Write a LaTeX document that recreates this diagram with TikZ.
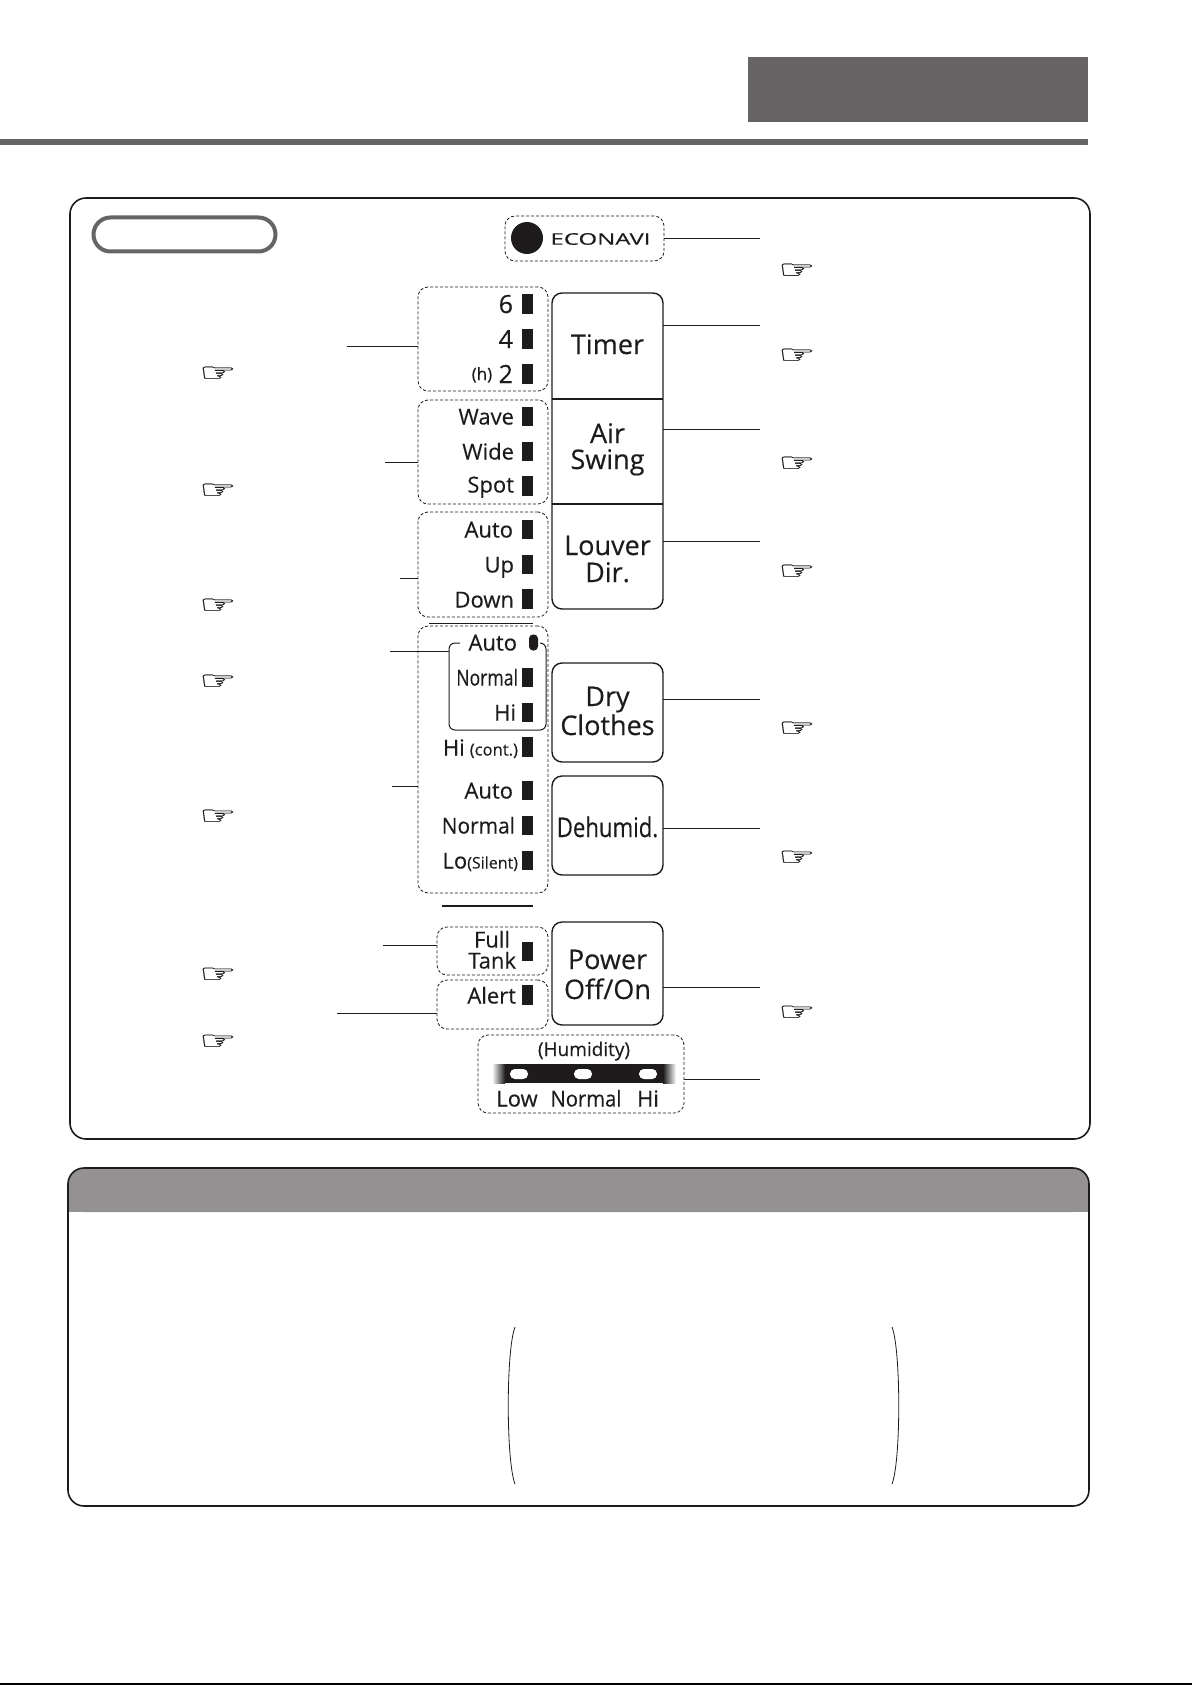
\documentclass[tikz,border=0pt]{standalone}
\usepackage{fontspec}
\setmainfont[FakeBold=0.3]{Open Sans}
\newfontfamily\handfont[FakeBold=0.4]{DejaVu Sans}
\usetikzlibrary{positioning, calc}
\definecolor{ink}{RGB}{30, 27, 28}
\definecolor{headgray}{RGB}{102, 100, 101}
\definecolor{bandgray}{RGB}{147, 145, 146}
\newcommand{\sml}[1]{{\fontsize{8}{8}\selectfont #1}}

\begin{document}
\begin{tikzpicture}[x=0.5pt, y=-0.5pt, every node/.style={inner sep=0pt, outer sep=0pt},
    groupbox/.style={rectangle, draw=ink, rounded corners=5pt, line width=0.4pt, dash pattern=on 1.5pt off 1pt},
    btnbox/.style={rectangle, draw=ink, rounded corners=5pt, line width=0.7pt, minimum width=55.5pt},
    btnlabel/.style={anchor=base, yshift=-0.5pt, font=\fontsize{13.5}{14}\selectfont, text=ink},
    ledlabel/.style={anchor=base east, yshift=-0.25pt, font=\fontsize{11}{11}\selectfont, text=ink},
    bignum/.style={anchor=base east, font=\fontsize{12.5}{12.5}\selectfont, text=ink},
    led/.style={rectangle, fill=ink, minimum width=5.5pt, minimum height=9.7pt},
    lamp/.style={rectangle, fill=white, rounded corners=2.4pt, minimum width=9pt, minimum height=5pt},
    lead/.style={draw=ink, line width=0.5pt},
    squeeze/.style={xscale=#1, transform shape},
    hand/.style={xscale=1.4, yscale=0.85, transform shape, font=\handfont\fontsize{15}{15}\selectfont, text=ink}]
    \useasboundingbox (0,0) rectangle (1192,1685);

    % page head
    \node[rectangle, fill=headgray, minimum width=170pt, minimum height=32.5pt] (headbar) at (918,89.5) {};
    \node[rectangle, fill=headgray, minimum width=544pt, minimum height=3pt] (headrule) at (544,142) {};
    \coordinate (footl) at (0,1684);
    \coordinate (footr) at (1192,1684);
    \draw[draw=black, line width=1pt] (footl) -- (footr);

    % panels
    \node[rectangle, draw=ink, line width=0.8pt, rounded corners=8pt, minimum width=510pt, minimum height=470.5pt] (panel) at (580,668.5) {};
    \node[rectangle, draw=headgray, line width=2pt, rounded corners=8.5pt, minimum width=91pt, minimum height=17pt] (pill) at (184.5,234.5) {};

    % econavi
    \node[groupbox, minimum width=79.5pt, minimum height=22.5pt] (econavibox) at (584.5,238.5) {};
    \node[circle, fill=ink, minimum size=16pt] (econavilamp) at (527,238) {};
    \node[squeeze=1.5, font=\fontsize{8}{8}\selectfont, text=ink] (econavi) at (600.5,239) {ECONAVI};

    % indicator groups
    \node[groupbox, minimum width=65pt, minimum height=52pt] (timerbox) at (483,339) {};
    \node[groupbox, minimum width=65pt, minimum height=52pt] (swingbox) at (483,452) {};
    \node[groupbox, minimum width=65pt, minimum height=52.5pt] (louverbox) at (483,564.5) {};
    \node[groupbox, minimum width=65pt, minimum height=133.5pt] (modebox) at (483,759.5) {};
    \node[groupbox, minimum width=55.5pt, minimum height=24pt] (fullbox) at (492.5,951) {};
    \node[groupbox, minimum width=55.5pt, minimum height=24.5pt] (alertbox) at (492.5,1004.5) {};
    \node[groupbox, minimum width=103pt, minimum height=39pt] (humidbox) at (581,1074) {};

    \node[bignum] (six) at (513,313) {6};
    \node[bignum] (four) at (513,348) {4};
    \node[bignum] (two) at (513,383) {\raisebox{1.5pt}{\fontsize{8.5}{8.5}\selectfont (h)} 2};
    \node[led] (ledsix) at (527.5,304) {};
    \node[led] (ledfour) at (527.5,339) {};
    \node[led] (ledtwo) at (527.5,374) {};

    \node[ledlabel] (wave) at (514,424) {Wave};
    \node[ledlabel] (wide) at (514,459) {Wide};
    \node[ledlabel] (spot) at (514,492) {Spot};
    \node[led] (ledwave) at (527.5,416.5) {};
    \node[led] (ledwide) at (527.5,451.5) {};
    \node[led] (ledspot) at (527.5,486) {};

    \node[ledlabel] (lvauto) at (513,537) {Auto};
    \node[ledlabel] (lvup) at (514,572) {Up};
    \node[ledlabel] (lvdown) at (514,607) {Down};
    \node[led] (ledlvauto) at (527.5,529.5) {};
    \node[led] (ledlvup) at (527.5,564.5) {};
    \node[led] (ledlvdown) at (527.5,599) {};

    \node[ledlabel] (dryauto) at (517,650) {Auto};
    \node[ledlabel, squeeze=0.8] (drynormal) at (518,685) {Normal};
    \node[ledlabel] (dryhi) at (516,720) {Hi};
    \node[ledlabel] (hicont) at (518,755) {Hi\hspace{2.5pt}{\fontsize{8.3}{8.3}\selectfont (cont.)}};
    \node[ledlabel] (dehauto) at (513,798) {Auto};
    \node[ledlabel, squeeze=0.95] (dehnormal) at (515,833) {Normal};
    \node[ledlabel] (lo) at (518,868) {Lo\sml{(Silent)}};
    \node[rectangle, fill=ink, rounded corners=2pt, minimum width=4.5pt, minimum height=8pt] (leddryauto) at (533.5,642.5) {};
    \node[led] (leddrynormal) at (527.5,677.5) {};
    \node[led] (leddryhi) at (527.5,712.5) {};
    \node[led] (ledhicont) at (527.5,747) {};
    \node[led] (leddehauto) at (527.5,790.5) {};
    \node[led] (leddehnormal) at (527.5,825.5) {};
    \node[led] (ledlo) at (527.5,860.5) {};

    \node[ledlabel] (full) at (510,947) {Full};
    \node[ledlabel] (tank) at (516,968) {Tank};
    \node[ledlabel] (alert) at (516,1003) {Alert};
    \node[led] (ledfull) at (527.5,951.5) {};
    \node[led] (ledalert) at (527.5,995) {};

    % bracket round the dry clothes lamps
    \coordinate (drya) at (460,643);
    \coordinate (dryb) at (449,730);
    \coordinate (dryc) at (546,730);
    \coordinate (dryd) at (541,643);
    \draw[lead, rounded corners=3pt] (drya) -- (drya -| dryb) -- (dryb) -- (dryc) -- (dryc |- dryd) -- (dryd);

    % short rules
    \coordinate (rulea) at (429,623);
    \coordinate (ruleb) at (533,623);
    \coordinate (rulec) at (442,906);
    \coordinate (ruled) at (533,906);
    \draw[lead] (rulea) -- (ruleb);
    \draw[draw=ink, line width=0.9pt] (rulec) -- (ruled);

    % buttons
    \node[btnbox, minimum height=158pt] (btnstack) at (607.5,451) {};
    \draw[draw=ink, line width=0.8pt] (btnstack.west |- 0,399) -- (btnstack.east |- 0,399);
    \draw[draw=ink, line width=0.8pt] (btnstack.west |- 0,504) -- (btnstack.east |- 0,504);
    \node[btnbox, minimum height=49.5pt] (drybtn) at (607.5,712.5) {};
    \node[btnbox, minimum height=49.5pt] (dehumbtn) at (607.5,825.5) {};
    \node[btnbox, minimum height=51.5pt] (powerbtn) at (607.5,973.5) {};

    \node[btnlabel] (timer) at (607.5,353) {Timer};
    \node[btnlabel] (air) at (607.5,442) {Air};
    \node[btnlabel] (swing) at (607.5,468) {Swing};
    \node[btnlabel] (louver) at (607.5,554) {Louver};
    \node[btnlabel] (dir) at (607.5,581) {Dir.};
    \node[btnlabel] (dry) at (607.5,705) {Dry};
    \node[btnlabel] (clothes) at (607.5,734) {Clothes};
    \node[btnlabel, squeeze=0.82] (dehumid) at (607.5,836) {Dehumid.};
    \node[btnlabel] (power) at (607.5,968) {Power};
    \node[btnlabel] (offon) at (607.5,998) {Off/On};

    % humidity scale
    \node[anchor=base, font=\fontsize{9.5}{10}\selectfont, text=ink] (humidity) at (584,1056) {(Humidity)};
    \node[rectangle, fill=ink, minimum width=79pt, minimum height=9.5pt] (band) at (584,1073.5) {};
    \shade[left color=white, right color=ink] (492,1064) rectangle (505,1083);
    \shade[left color=ink, right color=white] (663,1064) rectangle (676,1083);
    \node[lamp] (lamplow) at (519,1074) {};
    \node[lamp] (lampnormal) at (583,1074) {};
    \node[lamp] (lamphi) at (648,1074) {};
    \node[ledlabel, anchor=base] (low) at (517,1106) {Low};
    \node[ledlabel, anchor=base, squeeze=0.92] (normal) at (586,1106) {Normal};
    \node[ledlabel, anchor=base] (hi) at (648,1106) {Hi};

    % leaders, left
    \coordinate (ltimer) at (347,346);
    \coordinate (lswing) at (385,462);
    \coordinate (llouver) at (400,578);
    \coordinate (ldry) at (390,651);
    \coordinate (lmode) at (392,786);
    \coordinate (lfull) at (383,945);
    \coordinate (lalert) at (337,1013);
    \draw[lead] (ltimer) -- (ltimer -| timerbox.west);
    \draw[lead] (lswing) -- (lswing -| swingbox.west);
    \draw[lead] (llouver) -- (llouver -| louverbox.west);
    \draw[lead] (ldry) -- (ldry -| dryb);
    \draw[lead] (lmode) -- (lmode -| modebox.west);
    \draw[lead] (lfull) -- (lfull -| fullbox.west);
    \draw[lead] (lalert) -- (lalert -| alertbox.west);

    % leaders, right
    \coordinate (recon) at (760,239);
    \coordinate (rtimer) at (760,325);
    \coordinate (rswing) at (760,429);
    \coordinate (rlouver) at (760,541);
    \coordinate (rdry) at (760,699);
    \coordinate (rdehum) at (760,828);
    \coordinate (rpower) at (760,987);
    \coordinate (rhumid) at (760,1079);
    \draw[lead] (econavibox.east |- recon) -- (recon);
    \draw[lead] (btnstack.east |- rtimer) -- (rtimer);
    \draw[lead] (btnstack.east |- rswing) -- (rswing);
    \draw[lead] (btnstack.east |- rlouver) -- (rlouver);
    \draw[lead] (drybtn.east |- rdry) -- (rdry);
    \draw[lead] (dehumbtn.east |- rdehum) -- (rdehum);
    \draw[lead] (powerbtn.east |- rpower) -- (rpower);
    \draw[lead] (humidbox.east |- rhumid) -- (rhumid);

    % hands
    \node[hand] (handa) at (218,374) {☞};
    \node[hand] (handb) at (218,491) {☞};
    \node[hand] (handc) at (218,606) {☞};
    \node[hand] (handd) at (218,682) {☞};
    \node[hand] (hande) at (218,817) {☞};
    \node[hand] (handf) at (218,975) {☞};
    \node[hand] (handg) at (218,1042) {☞};
    \node[hand] (handh) at (797,271) {☞};
    \node[hand] (handi) at (797,356) {☞};
    \node[hand] (handj) at (797,464) {☞};
    \node[hand] (handk) at (797,572) {☞};
    \node[hand] (handl) at (797,729) {☞};
    \node[hand] (handm) at (797,858) {☞};
    \node[hand] (handn) at (797,1013) {☞};

    % lower panel
    \fill[bandgray, rounded corners=8pt] (68,1212) -- (68,1168) -- (1089,1168) -- (1089,1212) -- cycle;
    \fill[bandgray] (68,1195) rectangle (1089,1212);
    \node[rectangle, draw=ink, line width=0.8pt, rounded corners=8pt, minimum width=510.5pt, minimum height=169pt] (notepanel) at (578.5,1337) {};
    \coordinate (parla) at (515,1327);
    \coordinate (parlb) at (515,1484);
    \coordinate (parra) at (892,1327);
    \coordinate (parrb) at (892,1484);
    \draw[draw=ink, line width=0.4pt] (parla) .. controls (506,1350) and (506,1461) .. (parlb);
    \draw[draw=ink, line width=0.4pt] (parra) .. controls (901,1350) and (901,1461) .. (parrb);
\end{tikzpicture}
\end{document}
